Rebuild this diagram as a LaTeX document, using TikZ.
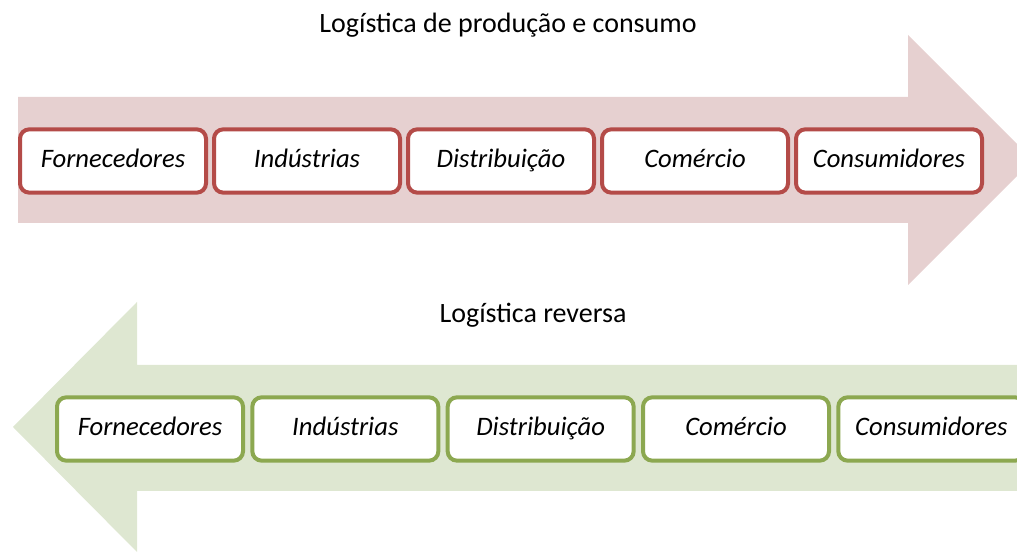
\documentclass[tikz,border=0pt]{standalone}
\usepackage{fontspec}
\setmainfont{Carlito}
\usetikzlibrary{positioning}

\definecolor{redfill}{RGB}{230,208,208}
\definecolor{redline}{RGB}{180,75,72}
\definecolor{greenfill}{RGB}{222,231,209}
\definecolor{greenline}{RGB}{140,168,80}

\tikzset{
  stage/.style={fill=white, line width=3pt, rounded corners=7pt,
    minimum width=139.5pt, minimum height=47.5pt,
    text height=14pt, text depth=4pt,
    font=\fontsize{20}{24}\selectfont\itshape},
  redstage/.style={stage, draw=redline},
  greenstage/.style={stage, draw=greenline},
  heading/.style={font=\fontsize{21}{25}\selectfont}
}

\begin{document}
\begin{tikzpicture}[x=0.75pt, y=0.75pt]
    \useasboundingbox (0,0) rectangle (1017,552);
    % big arrows
    \fill [redfill] (18,329) -- (908,329) -- (908,267) -- (1033,392)
        -- (908,517) -- (908,455) -- (18,455) -- cycle;
    \fill [greenfill] (13,125) -- (137,250) -- (137,187) -- (1045,187)
        -- (1045,61) -- (137,61) -- (137,0) -- cycle;

    \node [heading] (toptitle) at (508,527) {Logística de produção e consumo};
    \node [heading] (revtitle) at (533,237) {Logística reversa};

    \node [redstage] (forn) at (113,391) {Fornecedores};
\node [redstage, right=3pt of forn] (ind)  {Indústrias};
\node [redstage, right=3pt of ind]  (dist) {Distribuição};
\node [redstage, right=3pt of dist] (com)  {Comércio};
\node [redstage, right=3pt of com]  (cons) {Consumidores};

    \node [greenstage] (rforn) at (150,123) {Fornecedores};
\node [greenstage, right=4pt of rforn] (rind)  {Indústrias};
\node [greenstage, right=4pt of rind]  (rdist) {Distribuição};
\node [greenstage, right=4pt of rdist] (rcom)  {Comércio};
\node [greenstage, right=4pt of rcom]  (rcons) {Consumidores};
\end{tikzpicture}
\end{document}
